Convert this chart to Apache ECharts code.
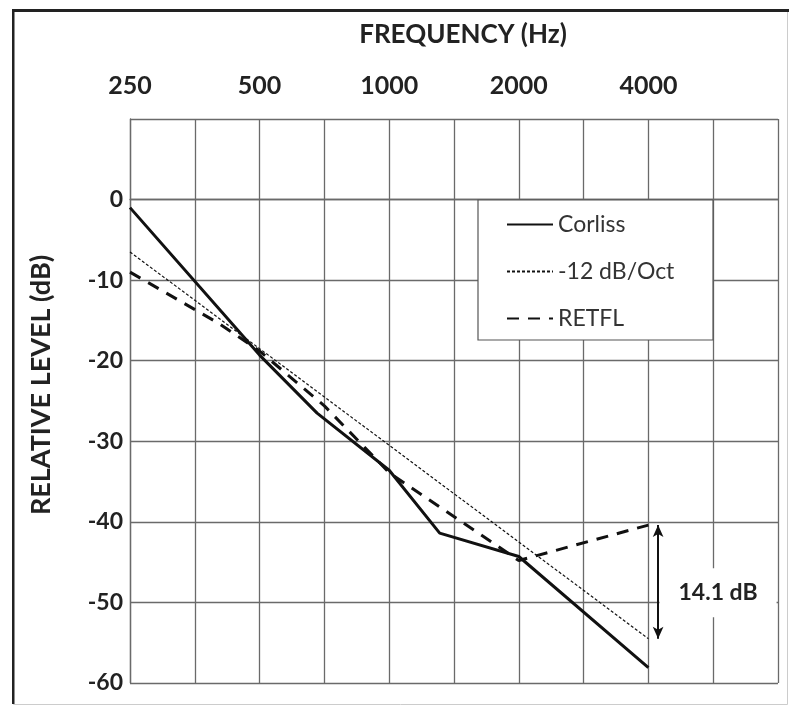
<!DOCTYPE html>
<html>
<head>
<meta charset="utf-8">
<script src="https://cdn.jsdelivr.net/npm/echarts@6/dist/echarts.min.js"></script>
<style>html,body{margin:0;padding:0;background:#fff;}#chart{width:789px;height:706px;}</style>
</head>
<body>
<div id="chart"></div>
<script>
// ---- data ----
const baseFreq = 250;
const xTickFreqs = [250, 500, 1000, 2000, 4000];
const yTicks = [-60, -50, -40, -30, -20, -10, 0];

const corlissFreqs = [250, 500, 680, 1000, 1310, 2000, 4000];
const corlissLevels = [-1.0, -19.3, -26.5, -33.6, -41.4, -44.3, -58.1];

const slopeFreqs = [250, 500, 1000, 2000, 4000];
const slopeLevels = [-6.5, -18.5, -30.5, -42.5, -54.5];

const retflFreqs = [250, 400, 500, 707, 1000, 2000, 4000];
const retflLevels = [-9.0, -15.3, -18.8, -25.6, -33.9, -44.8, -40.4];

const seriesNames = ['Corliss', '-12 dB/Oct', 'RETFL'];
const annotationText = '14.1 dB';
const annotationFreq = 4000;   // arrow stands just right of this frequency
const annotationLabelPos = [5805, -48.8]; // [Hz, dB]

// ---- helpers ----
const oct = f => Math.log2(f / baseFreq);
const pairs = (fs, vs) => fs.map((f, i) => [oct(f), vs[i]]);

const FONT = 'Lato';
const chart = echarts.init(document.getElementById('chart'), null, {renderer: 'canvas'});
const arrowX = oct(annotationFreq) + 0.075;

chart.setOption({
  animation: false,
  backgroundColor: '#fff',
  textStyle: {fontFamily: FONT},
  grid: {left: 130, right: 11, top: 119, bottom: 23, containLabel: false, outerBoundsMode: 'none'},
  xAxis: {
    type: 'value', position: 'top', min: 0, max: 5, interval: 0.5,
    name: 'FREQUENCY (Hz)', nameLocation: 'middle', nameGap: 71,
    nameTextStyle: {fontFamily: FONT, fontWeight: 'bold', fontSize: 26, color: '#222', padding: [0, 0, 0, 18]},
    axisLine: {show: true, lineStyle: {color: '#6a6a6a', width: 1.3}},
    axisTick: {show: false},
    axisLabel: {
      margin: 21, fontFamily: FONT, fontWeight: 'bold', fontSize: 25, color: '#222',
      formatter: v => {
        const f = Math.round(baseFreq * Math.pow(2, v));
        return xTickFreqs.includes(f) && Number.isInteger(v) ? String(f) : '';
      }
    },
    splitLine: {show: true, lineStyle: {color: '#6a6a6a', width: 1.3}}
  },
  yAxis: {
    type: 'value', min: -60, max: 10, interval: 10,
    name: 'RELATIVE LEVEL (dB)', nameLocation: 'middle', nameGap: 75,
    nameTextStyle: {fontFamily: FONT, fontWeight: 'bold', fontSize: 27, color: '#222', padding: [0, 0, 0, 32]},
    axisLine: {show: true, lineStyle: {color: '#6a6a6a', width: 1.3}},
    axisTick: {show: false},
    axisLabel: {
      margin: 7, fontFamily: FONT, fontWeight: 'bold', fontSize: 23, color: '#222',
      formatter: v => yTicks.includes(v) ? String(v) : ''
    },
    splitLine: {show: true, lineStyle: {color: '#6a6a6a', width: 1.3}}
  },
  legend: {
    left: 478, top: 200, orient: 'vertical',
    data: seriesNames,
    itemWidth: 46, itemHeight: 20, itemGap: 24,
    backgroundColor: '#fff', borderColor: '#555', borderWidth: 1.2,
    padding: [13, 25, 10, 28],
    itemStyle: {opacity: 0},
    textStyle: {fontFamily: FONT, fontSize: 23, color: '#333', width: 130, lineHeight: 20}
  },
  series: [
    {
      name: seriesNames[0], type: 'line', symbol: 'none',
      data: pairs(corlissFreqs, corlissLevels),
      lineStyle: {color: '#111', width: 3, type: 'solid'},
      itemStyle: {color: '#111'}, z: 3
    },
    {
      name: seriesNames[1], type: 'line', symbol: 'none',
      data: pairs(slopeFreqs, slopeLevels),
      lineStyle: {color: '#111', width: 1.2, type: [3, 2]},
      itemStyle: {color: '#111'}, z: 2
    },
    {
      name: seriesNames[2], type: 'line', symbol: 'none',
      data: pairs(retflFreqs, retflLevels),
      lineStyle: {color: '#111', width: 3, type: [12, 9]},
      itemStyle: {color: '#111'}, z: 2,
      markLine: {
        silent: true, symbol: ['arrow', 'arrow'], symbolSize: [8, 12],
        lineStyle: {color: '#111', width: 2, type: 'solid'},
        label: {show: false},
        data: [[
          {coord: [arrowX, retflLevels[retflLevels.length - 1]]},
          {coord: [arrowX, slopeLevels[slopeLevels.length - 1]]}
        ]]
      },
      markPoint: {
        silent: true, symbol: 'rect', symbolSize: 0,
        data: [{
          coord: [oct(annotationLabelPos[0]), annotationLabelPos[1]],
          label: {
            show: true, position: 'inside', formatter: annotationText,
            fontFamily: FONT, fontWeight: 'bold', fontSize: 23, color: '#222',
            backgroundColor: '#fff', padding: [13, 19]
          }
        }]
      }
    }
  ],
  graphic: {
    elements: [
      {type: 'rect', left: 13, top: 11, shape: {x: 0, y: 0, width: 774, height: 693}, style: {stroke: '#ccc', lineWidth: 1, fill: 'rgba(0,0,0,0)'}, z: 9, silent: true},
      {type: 'rect', left: 12, top: 9, shape: {x: 0, y: 0, width: 777, height: 3}, style: {fill: '#222'}, z: 10, silent: true},
      {type: 'rect', left: 12, top: 9, shape: {x: 0, y: 0, width: 2.5, height: 695}, style: {fill: '#222'}, z: 10, silent: true}
    ]
  }
});
</script>
</body>
</html>
